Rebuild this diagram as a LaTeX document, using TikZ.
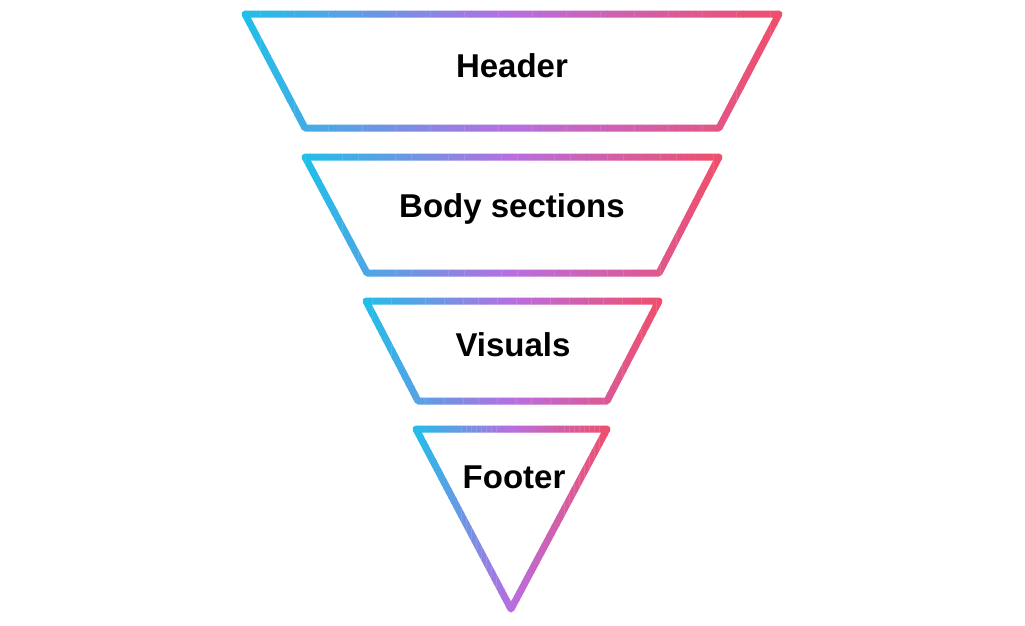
\documentclass[tikz,border=0pt]{standalone}
\usepackage{fontspec}
\setmainfont{Liberation Sans}
\usepackage{xcolor}
\definecolor{funnelcyan}{HTML}{1EC0E8}
\definecolor{funnelpurple}{HTML}{B86EE0}
\definecolor{funnelred}{HTML}{F04E6A}

% one funnel part, stroked in vertical strips that run cyan -> purple -> red
\newcommand{\funnelpart}[3]{%
  \foreach \i in {0,...,79} {
    \pgfmathsetmacro{\w}{(#2-#1+10)/80}
    \pgfmathsetmacro{\xa}{#1-5+\i*\w}
    \pgfmathsetmacro{\xb}{\xa+\w+0.3}
    \pgfmathsetmacro{\t}{\i/79*200}
    \ifdim\t pt<100pt
      \colorlet{stripcolor}{funnelpurple!\t!funnelcyan}
    \else
      \pgfmathsetmacro{\u}{\t-100}
      \colorlet{stripcolor}{funnelred!\u!funnelpurple}
    \fi
    \begin{scope}
      \clip (\xa, 0) rectangle (\xb, 625);
      \draw [funnel line, stripcolor] #3;
    \end{scope}
  }%
}

\begin{document}
\begin{tikzpicture}[x = 1pt, y = -1pt,
    funnel line/.style = {line width = 7pt, line join = round, line cap = round},
    label text/.style = {font = \fontsize{33}{38}\selectfont\bfseries, inner sep = 0pt}]

    \useasboundingbox (0, 0) rectangle (1025, 625);

    \funnelpart{245}{779}{(245, 14) -- (779, 14) -- (719, 128) -- (305, 128) -- cycle}
    \funnelpart{305}{719}{(305, 157) -- (719, 157) -- (659, 273) -- (367, 273) -- cycle}
    \funnelpart{366}{659}{(366, 301) -- (659, 301) -- (607, 401) -- (418, 401) -- cycle}
    \funnelpart{416}{607}{(416, 429) -- (607, 429) -- (511, 609) -- cycle}

    \node [label text] (header) at (512, 66) {Header};
    \node [label text] (body) at (512, 209) {Body sections};
    \node [label text] (visuals) at (513, 345) {Visuals};
    \node [label text] (footer) at (514, 477) {Footer};

\end{tikzpicture}
\end{document}
